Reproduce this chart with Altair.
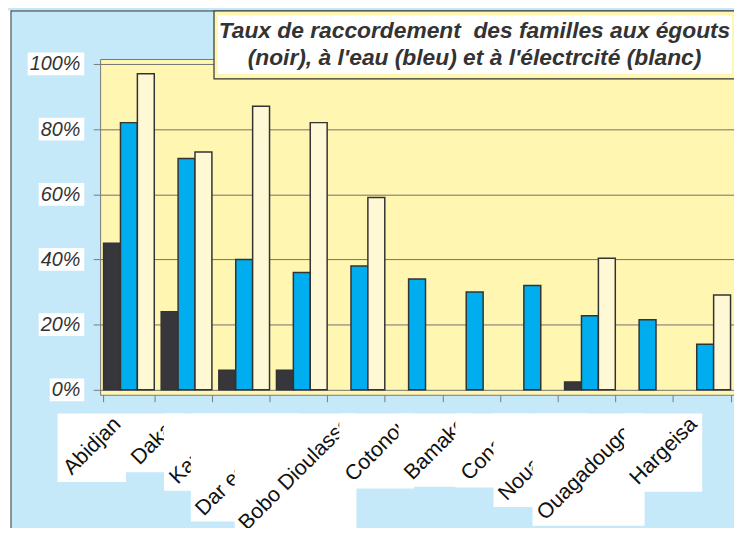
import altair as alt
import pandas as pd

# ---------------- data ----------------
cities = ["Abidjan", "Dakar", "Kampala", "Dar es Salam", "Bobo Dioulasso", "Cotonou",
          "Bamako", "Conakry", "Nouakchott", "Ouagadougou", "Hargeisa"]
egouts = [0.45, 0.24, 0.06, 0.06, None, None, None, None, 0.024, None, None]        # noir
eau = [0.82, 0.71, 0.40, 0.36, 0.38, 0.34, 0.30, 0.32, 0.227, 0.215, 0.14]          # bleu
electricite = [0.97, 0.73, 0.87, 0.82, 0.59, None, None, None, 0.404, None, 0.291]  # blanc
series = ["noir", "bleu", "blanc"]
y_ticks = [0, 0.2, 0.4, 0.6, 0.8, 1.0]
y_labels = ["0%", "20%", "40%", "60%", "80%", "100%"]
title_lines = ["Taux de raccordement\u00a0 des familles aux égouts",
               "(noir), à l'eau (bleu) et à l'électrcité (blanc)"]

# ---------------- styles / layout ----------------
W, H = 640, 339
series_colors = ["#37363b", "#00adef", "#fff8d4"]
LIGHT_BLUE = "#c5e9f9"
YELLOW = "#fff6b1"
INK = "#333333"
GRID = "#707070"
TICK = "#7a7a7a"
FONT = "Liberation Sans"
LABEL_SIZE = 21.5

# Arial / Liberation Sans advance widths (1/1000 em), used to size the label boxes
ADV = {" ": 278, "%": 889, "A": 667, "B": 667, "C": 722, "D": 722, "H": 722, "K": 667,
       "N": 722, "O": 778, "S": 667, "a": 556, "b": 556, "c": 500, "d": 556, "e": 556,
       "g": 556, "h": 556, "i": 222, "j": 222, "k": 500, "l": 222, "m": 833, "n": 556,
       "o": 556, "p": 556, "r": 333, "s": 500, "t": 278, "u": 556, "y": 500}


def em_width(s):
    return sum(ADV.get(ch, 556) for ch in s) / 1000.0


# ---------------- tables ----------------
rows = []
for c, a, b, d in zip(cities, egouts, eau, electricite):
    for s, v in zip(series, (a, b, d)):
        if v is not None:
            rows.append({"city": c, "series": s, "value": v})
bars_df = pd.DataFrame(rows)

step = W / len(cities)
lab_rows = []
for i, c in enumerate(cities):
    center = (i + 0.5) * step
    side = 14.7 * em_width(c) + 20
    lab_rows.append({"city": c, "bx1": center - 3 - side, "bx2": center - 3,
                     "by1": 358, "by2": 358 + side})
lab_df = pd.DataFrame(lab_rows)

yl_df = pd.DataFrame({"v": y_ticks, "label": y_labels})
yl_df["bx1"] = [-16 - (em_width(l) * 20 + 6) for l in y_labels]
yl_df["bx2"] = -16

one = pd.DataFrame({"k": [0]})

# ---------------- scales / axes ----------------
x_scale = alt.Scale(domain=cities, paddingInner=0.12, paddingOuter=0.06)
x_axis = alt.Axis(labels=False, title=None, tickBand="extent", ticks=True, tickSize=7,
                  tickColor=TICK, domain=False, grid=False)
y_scale = alt.Scale(domain=[0, 1], nice=False, zero=True)
y_axis = alt.Axis(values=y_ticks, labels=False, title=None, ticks=True, tickSize=7,
                  tickColor=TICK, domain=False, grid=True, gridColor=GRID, gridWidth=1)

# ---------------- layers ----------------
frame_strip = alt.Chart(one).mark_rect(fill="white").encode(
    x=alt.value(-93), x2=alt.value(-90), y=alt.value(-49), y2=alt.value(H + 200))
frame_left = alt.Chart(one).mark_rule(color=INK, strokeWidth=1).encode(
    x=alt.value(-90), y=alt.value(-49), y2=alt.value(H + 200))
frame_top = alt.Chart(one).mark_rule(color=INK, strokeWidth=1).encode(
    y=alt.value(-48.5), x=alt.value(-90), x2=alt.value(W + 100))

bars = alt.Chart(bars_df).mark_bar(stroke=INK, strokeWidth=1.5).encode(
    x=alt.X("city:N", scale=x_scale, axis=x_axis),
    xOffset=alt.XOffset("series:N", scale=alt.Scale(domain=series, paddingInner=0, paddingOuter=0)),
    y=alt.Y("value:Q", scale=y_scale, axis=y_axis),
    color=alt.Color("series:N", scale=alt.Scale(domain=series, range=series_colors), legend=None),
)

ybox = alt.Chart(yl_df).mark_bar(fill="white", height=23).encode(
    x=alt.X("bx1:Q", scale=None), x2="bx2:Q",
    y=alt.Y("v:Q", scale=y_scale, axis=y_axis))
ytxt = alt.Chart(yl_df).mark_text(align="right", baseline="alphabetic", dy=6.5, font=FONT,
                                  fontSize=20, fontStyle="italic", color=INK).encode(
    x=alt.value(-20), y=alt.Y("v:Q", scale=y_scale, axis=y_axis), text="label:N")

label_layers = []
for c in cities:
    box = alt.Chart(lab_df).transform_filter(alt.datum.city == c).mark_rect(fill="white").encode(
        x=alt.X("bx1:Q", scale=None), x2="bx2:Q",
        y=alt.Y("by1:Q", scale=None), y2="by2:Q")
    txt = alt.Chart(lab_df).transform_filter(alt.datum.city == c).mark_text(
        angle=315, align="right", baseline="alphabetic", font=FONT, fontSize=LABEL_SIZE,
        color="#111111").encode(
        x=alt.X("city:N", scale=x_scale, axis=x_axis, bandPosition=0.363),
        y=alt.value(370), text="city:N")
    label_layers += [box, txt]

title_outer = alt.Chart(one).mark_rect(fill=YELLOW, stroke=INK, strokeWidth=1.2).encode(
    x=alt.value(115), x2=alt.value(W + 60), y=alt.value(-48.5), y2=alt.value(20))
title_inner = alt.Chart(one).mark_rect(fill="white").encode(
    x=alt.value(119), x2=alt.value(638), y=alt.value(-44), y2=alt.value(15))
title_texts = []
for i, line in enumerate(title_lines):
    title_texts.append(alt.Chart(one).mark_text(
        align="center", baseline="alphabetic", font=FONT, fontSize=23, fontWeight="bold",
        fontStyle="italic", color=INK).encode(
        x=alt.value(378), y=alt.value(-21 + 27.5 * i), text=alt.value(line)))

chart = alt.layer(
    frame_strip, frame_left, frame_top, bars, ybox, ytxt, *label_layers,
    title_outer, title_inner, *title_texts
).properties(
    width=W, height=H,
    autosize=alt.AutoSizeParams(type="none"),
    padding={"left": 93, "top": 49, "right": 0, "bottom": 132},
).configure(
    background=LIGHT_BLUE, font=FONT
).configure_view(
    fill=YELLOW, stroke="#777777", strokeWidth=1
)

chart.save("out.html", embed_options={"renderer": "svg", "actions": False})
